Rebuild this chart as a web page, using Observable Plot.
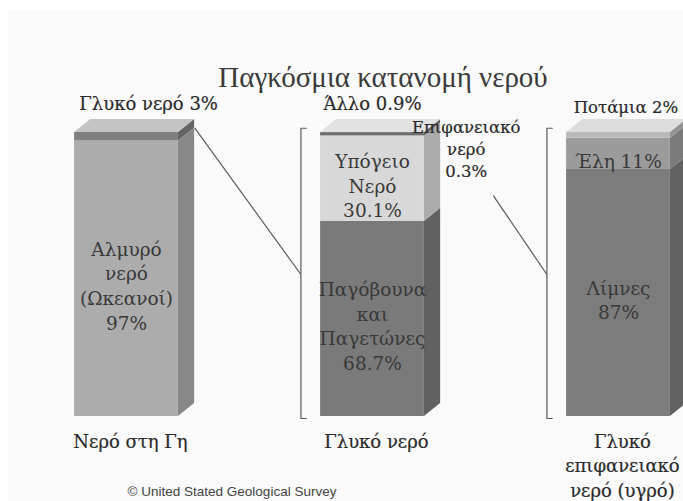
<!DOCTYPE html>
<html><head><meta charset="utf-8">
<script src="https://cdn.jsdelivr.net/npm/d3@7"></script>
<script src="https://cdn.jsdelivr.net/npm/@observablehq/plot@0.6"></script>
<style>
body{margin:0;background:#fff;width:683px;height:501px;overflow:hidden;position:relative}
#bg{position:absolute;left:8px;top:10px;right:0;bottom:0;background:#fafafa}
#chart{position:absolute;left:0;top:0}
</style></head><body><div id="bg"></div><div id="chart"></div>
<script>
// ---- data ----
const chartTitle = "Παγκόσμια κατανομή νερού";
const caption = "© United Stated Geological Survey";
const columnLabels = ["Νερό στη Γη", "Γλυκό νερό", "Γλυκό\nεπιφανειακό\nνερό (υγρό)"];
const segmentColumn = [0, 0, 1, 1, 1, 1, 2, 2, 2];
const segmentNames = ["Αλμυρό νερό (Ωκεανοί)", "Γλυκό νερό", "Παγόβουνα και Παγετώνες", "Υπόγειο Νερό", "Άλλο", "Επιφανειακό νερό", "Λίμνες", "Έλη", "Ποτάμια"];
const segmentValues = [97, 3, 68.7, 30.1, 0.9, 0.3, 87, 11, 2];
const insideLabels = ["Αλμυρό\nνερό\n(Ωκεανοί)\n97%", "", "Παγόβουνα\nκαι\nΠαγετώνες\n68.7%", "Υπόγειο\nΝερό\n30.1%", "", "", "Λίμνες\n87%", "Έλη 11%", ""];
const outsideLabels = ["Γλυκό νερό 3%", "Άλλο 0.9%", "Επιφανειακό\nνερό\n0.3%", "Ποτάμια 2%"];
const outsideLabelSegment = [1, 4, 5, 8];

// ---- styles / geometry constants ----
const SERIF = "'Liberation Serif', 'Times New Roman', serif";
const LSERIF = "'DejaVu Serif', serif";
const SANS = "'Liberation Sans', Arial, sans-serif";
const HW = 0.211, DX = 0.066, DY = 4.6, BR = 0.08, TK = 0.022;
const frontColors = ["#acacac", "#7e7e7e", "#7a7a7a", "#d8d8d8", "#6e6e6e", "#6e6e6e", "#7c7c7c", "#9b9b9b", "#b9b9b9"];
const topColors = ["#c4c4c4", "#e2e2e2", "#dcdcdc"];
const outsidePlacement = [
  {dx: 0.09, dy: 10.6, size: 18},
  {dx: 0.0, dy: 10.6, size: 18},
  {dx: HW + 0.17, dy: -5.6, size: 16.5},
  {dx: 0.03, dy: 9.2, size: 16.5}
];

// ---- build ----
const segs = segmentValues.map((v, i) => ({i, col: segmentColumn[i], name: segmentNames[i], value: v, label: insideLabels[i], fill: frontColors[i]}));
const totals = {};
segs.forEach(s => { s.y1 = totals[s.col] ?? 0; s.y2 = s.y1 + s.value; totals[s.col] = s.y2; });

const sidePts = segs.flatMap(s => {
  const side = d3.color(s.fill).darker(0.65).formatHex();
  return [
    {id: s.i, x: s.col + HW, y1: s.y1, y2: s.y2, fill: side},
    {id: s.i, x: s.col + HW + DX, y1: s.y1 + DY, y2: s.y2 + DY, fill: side}
  ];
});
const topPts = [0, 1, 2].flatMap(c => {
  const t = totals[c];
  return [
    {id: c, x: c - HW, y1: t, y2: t, fill: topColors[c]},
    {id: c, x: c - HW + DX, y1: t, y2: t + DY, fill: topColors[c]},
    {id: c, x: c + HW, y1: t, y2: t + DY, fill: topColors[c]},
    {id: c, x: c + HW + DX, y1: t + DY, y2: t + DY, fill: topColors[c]}
  ];
});
const brackets = [1, 2].flatMap(c => {
  const bx = c - HW - BR, top = totals[c] + 1.5, bot = -0.7;
  return [
    {c, x: bx + TK, y: top}, {c, x: bx, y: top}, {c, x: bx, y: bot}, {c, x: bx + TK, y: bot}
  ];
});
const outs = outsideLabels.map((t, k) => {
  const s = segs[outsideLabelSegment[k]];
  return {text: t, k, x: s.col + outsidePlacement[k].dx, y: totals[s.col] + outsidePlacement[k].dy};
});
const connectors = [
  {x1: 0 + HW + DX, y1: segs[1].y1 + DY, x2: 1 - HW - BR, y2: totals[1] / 2},
  {x1: outs[2].x + 0.11, y1: outs[2].y - 16.6, x2: 2 - HW - BR, y2: totals[2] / 2}
];
const bottoms = columnLabels.map((t, c) => ({text: t, x: c + 0.016, y: -4.75}));

const chart = Plot.plot({
  width: 683, height: 501,
  marginTop: 0, marginRight: 0, marginBottom: 0, marginLeft: 0,
  x: {type: "linear", domain: [0, 2], range: [126, 618], axis: null},
  y: {type: "linear", domain: [0, 100], range: [416, 132], axis: null},
  color: {type: "identity"},
  style: {background: "transparent", overflow: "visible"},
  marks: [
    Plot.area(sidePts, {x1: "x", y1: "y1", y2: "y2", z: "id", fill: "fill", curve: "linear"}),
    Plot.rect(segs, {x1: d => d.col - HW, x2: d => d.col + HW, y1: "y1", y2: "y2", fill: "fill"}),
    Plot.area(topPts, {x1: "x", y1: "y1", y2: "y2", z: "id", fill: "fill", curve: "linear"}),
    Plot.line(brackets, {x: "x", y: "y", z: "c", stroke: "#5a5a5a", strokeWidth: 1.2}),
    Plot.link(connectors, {x1: "x1", y1: "y1", x2: "x2", y2: "y2", stroke: "#5a5a5a", strokeWidth: 1.2}),
    Plot.text(segs.filter(s => s.label), {x: "col", y: d => (d.y1 + d.y2) / 2, text: "label", fontSize: 18.5, lineHeight: 1.33, dy: 6, fill: "#383838", fontFamily: LSERIF}),
    ...outs.map(o => Plot.text([o], {x: "x", y: "y", text: "text", fontSize: outsidePlacement[o.k].size, lineHeight: 1.33, fill: "#2a2a2a", stroke: "#2a2a2a", strokeWidth: 0.2, fontFamily: LSERIF})),
    Plot.text(bottoms, {x: "x", y: "y", text: "text", fontSize: 18, lineHeight: 1.38, lineAnchor: "top", fill: "#2a2a2a", stroke: "#2a2a2a", strokeWidth: 0.2, fontFamily: LSERIF}),
    Plot.text([chartTitle], {frameAnchor: "top", lineAnchor: "middle", dx: 41, dy: 77, fontSize: 29, fill: "#3a3a3a", fontFamily: SERIF}),
    Plot.text([caption], {frameAnchor: "bottom", lineAnchor: "middle", dx: -110, dy: -10, fontSize: 13.5, fill: "#444", fontFamily: SANS})
  ]
});
document.getElementById("chart").appendChild(chart);
</script>
</body></html>
